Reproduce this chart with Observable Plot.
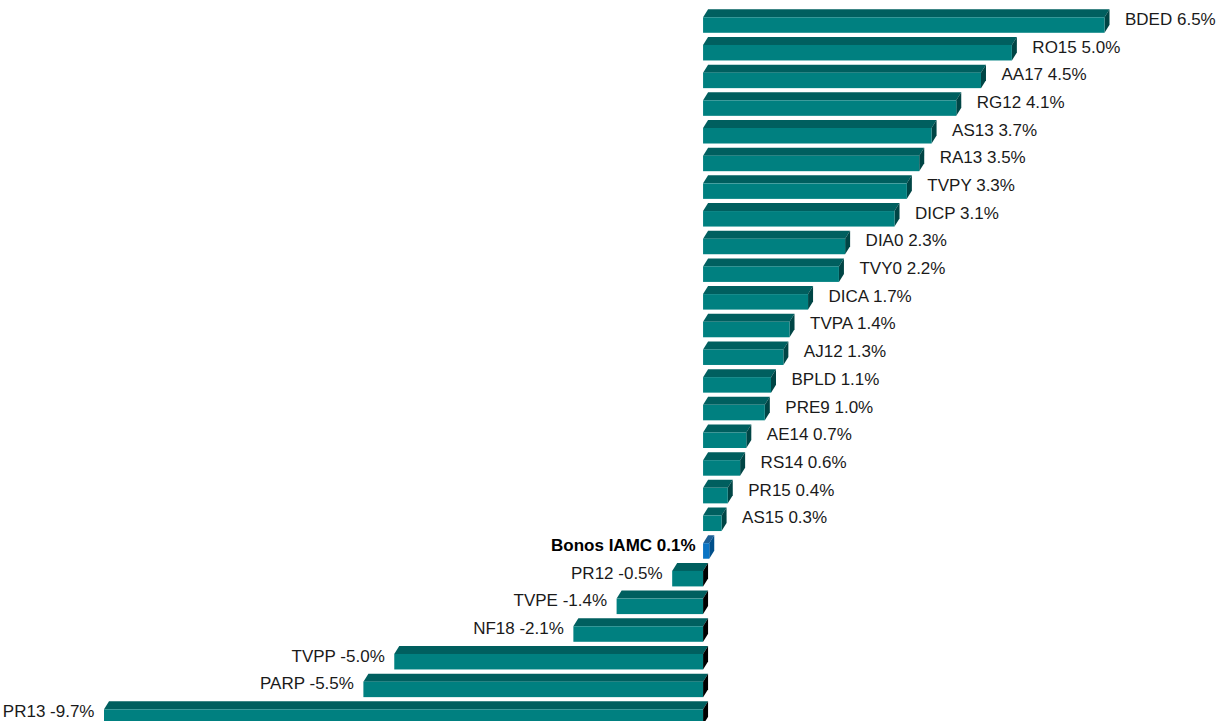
<!DOCTYPE html>
<html>
<head>
<meta charset="utf-8">
<script src="https://cdn.jsdelivr.net/npm/d3@7"></script>
<script src="https://cdn.jsdelivr.net/npm/@observablehq/plot@0.6"></script>
<style>
  html, body { margin: 0; padding: 0; background: #ffffff; }
  #chart svg { display: block; }
</style>
</head>
<body>
<div id="chart"></div>
<script>
// ---- Data ----
const names = ["BDED","RO15","AA17","RG12","AS13","RA13","TVPY","DICP","DIA0","TVY0","DICA","TVPA","AJ12","BPLD","PRE9","AE14","RS14","PR15","AS15","Bonos IAMC","PR12","TVPE","NF18","TVPP","PARP","PR13"];
const returns = [6.5,5.0,4.5,4.1,3.7,3.5,3.3,3.1,2.3,2.2,1.7,1.4,1.3,1.1,1.0,0.7,0.6,0.4,0.3,0.1,-0.5,-1.4,-2.1,-5.0,-5.5,-9.7];
const indexName = "Bonos IAMC";

const rows = names.map((n, i) => ({
  name: n,
  value: returns[i],
  label: `${n} ${returns[i].toFixed(1)}%`,
  isIndex: n === indexName
}));

// ---- Styles ----
const DX = 5, DY = 8;
const teal = {front: "#008080", top: "#005f5f", sidePos: "#004545", sideNeg: "#000000"};
const blue = {front: "#0a74c4", top: "#1d5f96", side: "#004f8a"};
const font = "'Liberation Sans', Arial, Helvetica, sans-serif";

function bars3d(data) {
  return Plot.barX(data, {
    x: "value",
    y: "name",
    render(index, scales, values, dimensions, context) {
      const x = scales.x, y = scales.y;
      const bw = typeof y.bandwidth === "function" ? y.bandwidth() : scales.scales.y.bandwidth;
      const g = d3.create("svg:g");
      for (const i of index) {
        const d = data[i];
        const x0 = x(Math.min(0, d.value)), x1 = x(Math.max(0, d.value));
        const yt = y(d.name), yb = yt + bw;
        const c = d.isIndex
          ? {front: blue.front, top: blue.top, side: blue.side}
          : {front: teal.front, top: teal.top, side: d.value < 0 ? teal.sideNeg : teal.sidePos};
        g.append("path")
          .attr("d", `M${x0},${yt}L${x1},${yt}L${x1 + DX},${yt - DY}L${x0 + DX},${yt - DY}Z`)
          .attr("fill", c.top);
        g.append("path")
          .attr("d", `M${x1},${yt}L${x1 + DX},${yt - DY}L${x1 + DX},${yb - DY}L${x1},${yb}Z`)
          .attr("fill", c.side);
        g.append("rect")
          .attr("x", x0).attr("y", yt)
          .attr("width", Math.max(0, x1 - x0)).attr("height", bw)
          .attr("fill", c.front);
      }
      return g.node();
    }
  });
}

const rightRows = rows.filter(d => d.value > 0 && !d.isIndex);
const leftRows = rows.filter(d => d.value <= 0 && !d.isIndex);
const idxRows = rows.filter(d => d.isIndex);

const chart = Plot.plot({
  width: 1221,
  height: 721,
  margin: 0,
  style: {background: "#ffffff", fontFamily: font},
  x: {domain: [-9.7, 6.5], range: [104, 1104.5], axis: null},
  y: {domain: names, range: [5.1, 737], padding: 0.44, round: false, axis: null},
  marks: [
    bars3d(rows),
    Plot.text(rightRows, {x: "value", y: "name", text: "label", textAnchor: "start", dx: 20, dy: -6, fontSize: 17, fill: "#1a1a1a", fontFamily: font}),
    Plot.text(leftRows, {x: "value", y: "name", text: "label", textAnchor: "end", dx: -10, dy: -6, fontSize: 17, fill: "#1a1a1a", fontFamily: font}),
    Plot.text(idxRows, {x: 0, y: "name", text: "label", textAnchor: "end", dx: -8, dy: -6, fontSize: 17, fontWeight: "bold", fill: "#000000", fontFamily: font})
  ]
});
document.getElementById("chart").appendChild(chart);
</script>
</body>
</html>
